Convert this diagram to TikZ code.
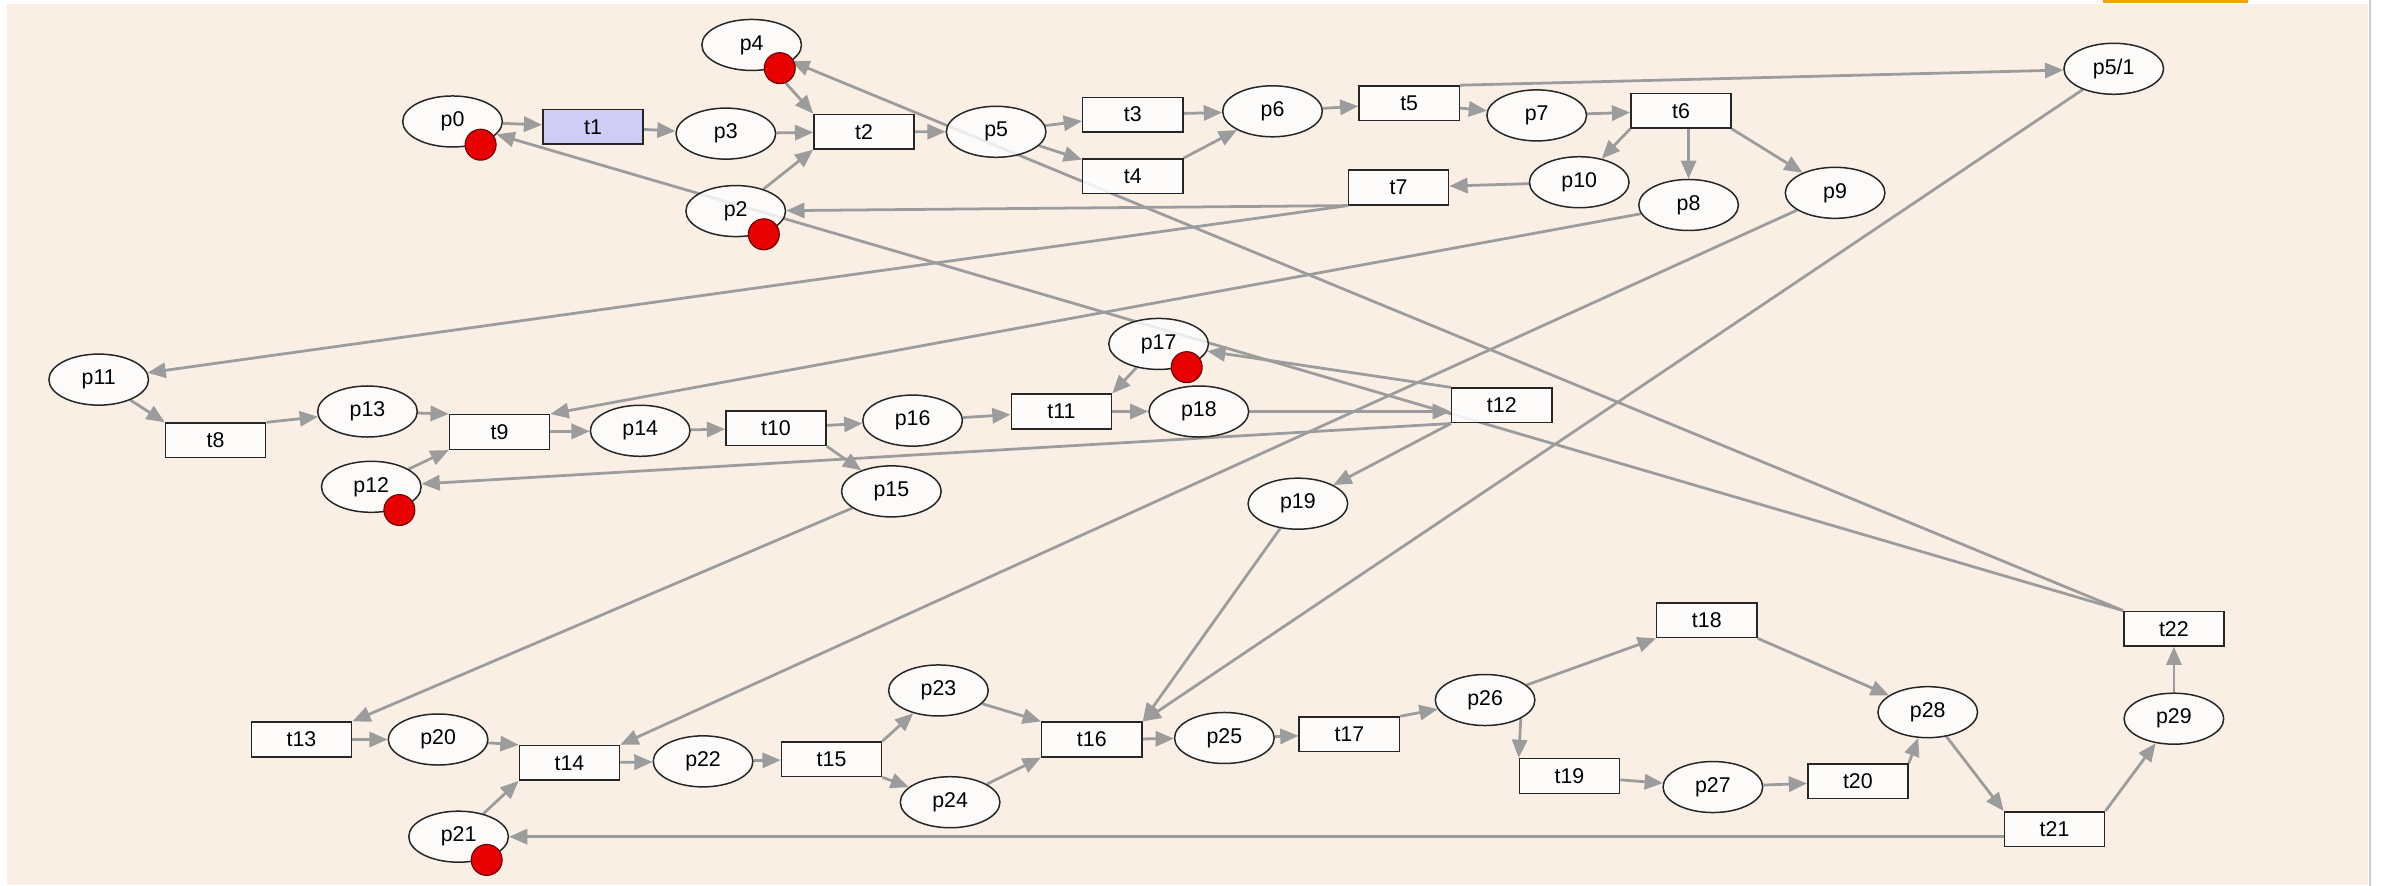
\documentclass[tikz,border=0pt]{standalone}
\usepackage{fontspec}
\setmainfont{Liberation Sans}
\usepackage{tikz}
\usetikzlibrary{shapes}
\usetikzlibrary{arrows.meta}
\usetikzlibrary{backgrounds}

\definecolor{canvas}{HTML}{F9EFE5}
\definecolor{arcgray}{HTML}{9C9C9C}
\definecolor{tokred}{HTML}{E80000}
\definecolor{firing}{HTML}{C8C8FA}
\definecolor{tabbar}{HTML}{F5A300}

\begin{document}
\begin{tikzpicture}[x=0.25mm,y=-0.25mm]
	\tikzstyle{place}=[ellipse,draw=black!85,fill=white,fill opacity=0.8,text opacity=1,line width=0.7pt,minimum width=16.4mm,minimum height=8.4mm,inner sep=0pt,font=\fontsize{10}{12}\selectfont]
	\tikzstyle{trans}=[rectangle,draw=black!85,fill=white,fill opacity=0.85,text opacity=1,line width=0.7pt,minimum width=16.5mm,minimum height=5.7mm,inner sep=0pt,font=\fontsize{10}{12}\selectfont]
	\tikzstyle{token}=[circle,draw=black!60!red,fill=tokred,line width=0.5pt,minimum size=5.1mm,inner sep=0pt]
	\tikzstyle{arc}=[draw=arcgray,line width=1.3pt,-{Triangle[length=3mm,width=2.5mm]}]

	\useasboundingbox (0,0) rectangle (1568,583.47);

	% top row
	\node[place] (p0) at (298,80) {p0};
	\node[trans,fill=firing] (t1) at (390.5,83.5) {t1};
	\node[place] (p3) at (478,88) {p3};
	\node[place] (p4) at (495,29.6) {p4};
	\node[place] (p2) at (484.5,139) {p2};
	\node[trans] (t2) at (569,86.7) {t2};
	\node[place] (p5) at (656,86.8) {p5};
	\node[trans] (t3) at (746,75.5) {t3};
	\node[trans] (t4) at (746,116) {t4};
	\node[place] (p6) at (838,73.3) {p6};
	\node[trans] (t5) at (928,68) {t5};
	\node[place] (p7) at (1012,76) {p7};
	\node[trans] (t6) at (1107,73) {t6};
	\node[place] (p51) at (1392,45.3) {p5/1};
	\node[place] (p10) at (1040,120) {p10};
	\node[trans] (t7) at (921,123.5) {t7};
	\node[place] (p8) at (1112,135) {p8};
	\node[place] (p9) at (1208.5,127) {p9};

	% middle row
	\node[place] (p11) at (65,250) {p11};
	\node[trans] (t8) at (142,290) {t8};
	\node[place] (p13) at (242,271) {p13};
	\node[trans] (t9) at (329,284.5) {t9};
	\node[place] (p12) at (244.5,320.6) {p12};
	\node[place] (p14) at (421.6,283.7) {p14};
	\node[trans] (t10) at (511,282) {t10};
	\node[place] (p16) at (601,277) {p16};
	\node[trans] (t11) at (699,271) {t11};
	\node[place] (p17) at (763,226.5) {p17};
	\node[place] (p18) at (789.5,271) {p18};
	\node[trans] (t12) at (989,267) {t12};
	\node[place] (p15) at (587,323.6) {p15};
	\node[place] (p19) at (854.7,331.7) {p19};

	% bottom row
	\node[trans] (t13) at (198.5,487) {t13};
	\node[place] (p20) at (288.5,487) {p20};
	\node[trans] (t14) at (375,502.4) {t14};
	\node[place] (p21) at (302,551) {p21};
	\node[place] (p22) at (463,501.4) {p22};
	\node[trans] (t15) at (547.6,500) {t15};
	\node[place] (p23) at (618,454.7) {p23};
	\node[place] (p24) at (625.7,528.3) {p24};
	\node[trans] (t16) at (719,487) {t16};
	\node[place] (p25) at (806.3,486) {p25};
	\node[trans] (t17) at (888.6,483.6) {t17};
	\node[place] (p26) at (978,461) {p26};
	\node[trans] (t18) at (1124,408.5) {t18};
	\node[trans] (t19) at (1033.6,511) {t19};
	\node[place] (p27) at (1128,518.3) {p27};
	\node[trans] (t20) at (1223.5,514.6) {t20};
	\node[place] (p28) at (1269.5,469) {p28};
	\node[trans] (t21) at (1353,546) {t21};
	\node[place] (p29) at (1431.6,473.3) {p29};
	\node[trans] (t22) at (1431.6,414) {t22};

	% marking
	\foreach \p in {p0,p2,p4,p12,p17,p21}
		\node[token] (tok-\p) at ([shift={(18.5,15.3)}]\p) {};

	\begin{scope}[on background layer]
		\fill[white] (0,0) rectangle (1568,583.47);
		\fill[canvas] (4.6,2.6) rectangle (1559.4,582.8);
		\draw[black!20,line width=1pt] (1560.7,0) -- (1560.7,583.47);
		\fill[tabbar] (1385,0) rectangle (1480.4,2);
	\end{scope}

	\begin{scope}[on background layer]
		\foreach \a/\b in {p0/t1, t1/p3, p3/t2, p4/t2.north west, p2/t2.south west, t2/p5, p5/t3, p5/t4,
				t3/p6, t4.north east/p6, p6/t5, t5/p7, t5.north east/p51, p7/t6, t6.south west/p10,
				t6.south east/p9, p10/t7, t7.south west/p2, t7.south west/p11, p8/t9.north east,
				p9/t14.north east, p51/t16.north east, t22.north west/p4, t22.north west/p0,
				t12.north west/p17, p17/t11.north east, t11/p18, t12.south west/p12, t12.south west/p19,
				p11/t8.north west, t8.north east/p13, p13/t9.north west, p12/t9.south west, t9/p14,
				p14/t10, t10/p16, t10.south east/p15, p16/t11, p15/t13.north east, p19/t16.north east,
				t13/p20, p20/t14.north west, p21/t14.south west, t14/p22, p22/t15, t15.north east/p23,
				t15.south east/p24, p23/t16.north west, p24/t16.south west, t16/p25, p25/t17,
				t17.north east/p26, p26/t18.south west, p26.south east/t19.north west, t18.south east/p28,
				t19/p27, p27/t20, t20.north east/p28, p28/t21.north west, t21.north east/p29, p29/t22}
			\draw[arc] (\a) -- (\b);
		\draw[arc] (p18) -- (t12.west |- p18);
		\draw[arc] (t6.south -| p8) -- (p8);
		\draw[arc] (t21.west |- p21) -- (p21);
	\end{scope}
\end{tikzpicture}
\end{document}
